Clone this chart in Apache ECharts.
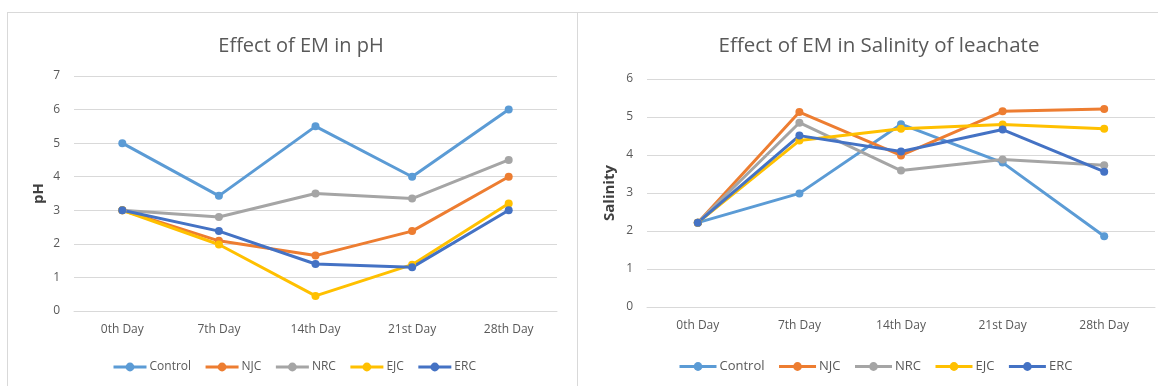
<!DOCTYPE html>
<html>
<head>
<meta charset="utf-8">
<script src="https://cdn.jsdelivr.net/npm/echarts@6/dist/echarts.min.js"></script>
<style>
  html, body { margin: 0; padding: 0; background: #fff; }
  #wrap { position: relative; width: 1158px; height: 386px; overflow: hidden; }
  .panel { position: absolute; border: 1px solid #d9d9d9; box-sizing: border-box; }
  #chart { position: absolute; left: 0; top: 0; width: 1158px; height: 386px; }
</style>
</head>
<body>
<div id="wrap">
  <div class="panel" style="left:7px; top:12px; width:571px; height:390px;"></div>
  <div class="panel" style="left:577px; top:12px; width:590px; height:390px;"></div>
  <div id="chart"></div>
</div>
<script>
const days = ['0th Day', '7th Day', '14th Day', '21st Day', '28th Day']
const seriesNames = ['Control', 'NJC', 'NRC', 'EJC', 'ERC']
const colors = ['#5B9BD5', '#ED7D31', '#A5A5A5', '#FFC000', '#4472C4']

// pH
const phControl = [5, 3.43, 5.5, 4, 6]
const phNJC = [3, 2.09, 1.65, 2.38, 4]
const phNRC = [3, 2.8, 3.5, 3.35, 4.5]
const phEJC = [3, 1.98, 0.45, 1.38, 3.2]
const phERC = [3, 2.38, 1.4, 1.3, 3]

// salinity
const salControl = [2.22, 2.99, 4.81, 3.8, 1.86]
const salNJC = [2.22, 5.13, 3.99, 5.15, 5.21]
const salNRC = [2.22, 4.85, 3.59, 3.88, 3.73]
const salEJC = [2.22, 4.38, 4.69, 4.8, 4.69]
const salERC = [2.22, 4.51, 4.09, 4.67, 3.56]

const phData = [phControl, phNJC, phNRC, phEJC, phERC]
const salData = [salControl, salNJC, salNRC, salEJC, salERC]

const chart = echarts.init(document.getElementById('chart'))

const font = '"Open Sans", sans-serif'
const labelColor = '#595959'
const gridColor = '#d9d9d9'

const makeX = (gridIndex) => ({
  type: 'category',
  gridIndex,
  data: days,
  boundaryGap: true,
  axisTick: { show: false },
  axisLine: { lineStyle: { color: gridColor } },
  axisLabel: { color: labelColor, fontSize: 12, fontFamily: font, margin: 13 }
})

const makeY = (gridIndex, name, max, gap) => ({
  type: 'value',
  gridIndex,
  min: 0,
  max,
  interval: 1,
  name,
  nameLocation: 'middle',
  nameGap: gap,
  nameTextStyle: { color: '#404040', fontSize: 15, fontWeight: 'bold', fontFamily: font },
  axisLine: { show: false },
  axisTick: { show: false },
  axisLabel: { color: labelColor, fontSize: 12, fontFamily: font, margin: 14 },
  splitLine: { lineStyle: { color: gridColor } }
})

const makeSeries = (data, idx) => data.map((vals, i) => ({
  name: seriesNames[i],
  type: 'line',
  xAxisIndex: idx,
  yAxisIndex: idx,
  data: vals,
  symbol: 'circle',
  symbolSize: 8,
  lineStyle: { width: 3, color: colors[i] },
  itemStyle: { color: colors[i] },
  emphasis: { disabled: true }
}))

const makeLegend = (left, top, w, size) => ({
  data: seriesNames,
  left,
  top,
  itemWidth: w,
  itemHeight: 11,
  itemGap: 13,
  lineStyle: { width: 3 },
  textStyle: { color: labelColor, fontSize: size, fontFamily: font, padding: [0, 0, 0, -2] }
})

const option = {
  animation: false,
  color: colors,
  title: [
    {
      text: 'Effect of EM in pH',
      left: 296, top: 31, textAlign: 'center',
      textStyle: { color: labelColor, fontSize: 20, fontWeight: 'normal', fontFamily: font }
    },
    {
      text: 'Effect of EM in Salinity of leachate',
      left: 874, top: 31, textAlign: 'center',
      textStyle: { color: labelColor, fontSize: 20.5, fontWeight: 'normal', fontFamily: font }
    }
  ],
  legend: [
    makeLegend(107, 356, 33, 12),
    makeLegend(673, 355, 37, 13)
  ],
  grid: [
    { left: 74, right: 601, top: 76, bottom: 75 },
    { left: 647, right: 3, top: 79, bottom: 79 }
  ],
  xAxis: [makeX(0), makeX(1)],
  yAxis: [makeY(0, 'pH', 7, 28), makeY(1, 'Salinity', 6, 30)],
  series: [...makeSeries(phData, 0), ...makeSeries(salData, 1)]
}

chart.setOption(option)
</script>
</body>
</html>
